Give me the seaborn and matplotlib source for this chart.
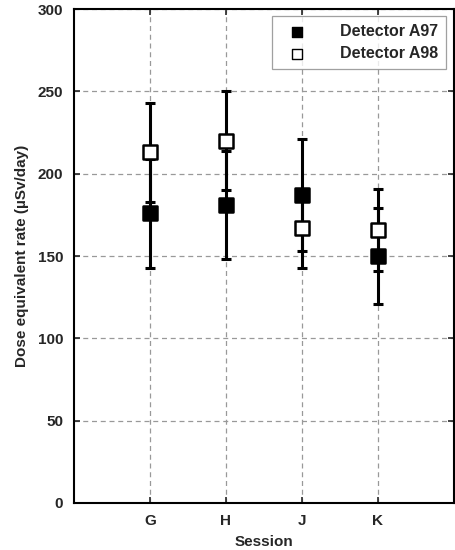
import matplotlib
matplotlib.use("Agg")
import matplotlib.pyplot as plt
import numpy as np
import pandas as pd
import seaborn as sns

sessions = ["G", "H", "J", "K"]
a97_rate = [176, 181, 187, 150]
a97_err = [33, 33, 34, 29]
a98_rate = [213, 220, 167, 166]
a98_err = [30, 30, 24, 25]

sns.set_style("ticks")
plt.rcParams["font.family"] = ["Liberation Sans", "DejaVu Sans"]
plt.rcParams["font.weight"] = "bold"

fig = plt.figure(figsize=(4.55, 5.5), dpi=100)
ax = fig.add_axes([0.163, 0.0855, 0.834, 0.898])

pos = np.arange(1, len(sessions) + 1)
df = pd.DataFrame({
    "pos": np.concatenate([pos, pos]),
    "rate": a97_rate + a98_rate,
    "err": a97_err + a98_err,
    "detector": ["Detector A97"] * 4 + ["Detector A98"] * 4,
})

for det, face, z in [("Detector A97", "black", 3), ("Detector A98", "white", 4)]:
    sub = df[df["detector"] == det]
    ax.errorbar(sub["pos"], sub["rate"], yerr=sub["err"], fmt="none",
                ecolor="black", elinewidth=2.2, capsize=3.8, capthick=2.2, zorder=z)
    sns.scatterplot(x=sub["pos"], y=sub["rate"], marker="s", s=90, color=face,
                    edgecolor="black", linewidth=1.8, zorder=z + 0.5, ax=ax,
                    label=det)

ax.set_xlim(0, 5)
ax.set_ylim(0, 300)
ax.set_xticks(pos)
ax.set_xticklabels(sessions)
ax.set_yticks(np.arange(0, 301, 50))
ax.grid(True, linestyle=(0, (4, 3)), color="#999999", linewidth=0.9)
ax.tick_params(direction="in", length=4, width=1.2, labelsize=11,
               top=True, right=True, pad=8)
for s in ax.spines.values():
    s.set_linewidth(1.5)
    s.set_color("black")

ax.set_xlabel("Session", fontsize=11, fontweight="bold", labelpad=5)
ax.set_ylabel("Dose equivalent rate (\u00b5Sv/day)", fontsize=11,
              fontweight="bold", labelpad=6)

leg = ax.legend(loc="upper right", fontsize=11.5, frameon=True, fancybox=False,
                edgecolor="#888888", borderaxespad=0.45, handletextpad=1.6,
                borderpad=0.5, labelspacing=0.45, handlelength=2.2)
leg.get_frame().set_linewidth(0.9)
for h in leg.legend_handles:
    h.set_sizes([55])
    h.set_linewidth(1.0)

fig.savefig("out.png", dpi=100)
